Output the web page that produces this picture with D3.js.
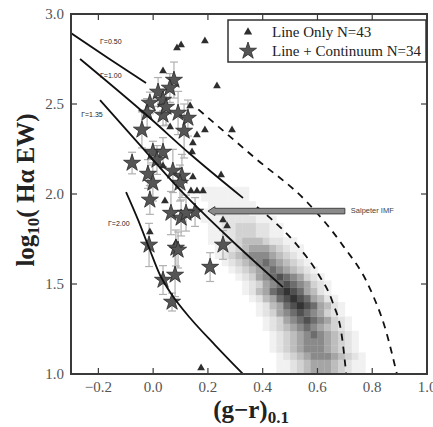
<!DOCTYPE html>
<html><head><meta charset="utf-8">
<script src="https://cdn.jsdelivr.net/npm/d3@7"></script>
<style>body{margin:0;background:#fff}svg{display:block}</style>
</head><body>
<script>
// ---------- data ----------
const xTicks = [-0.2, 0.0, 0.2, 0.4, 0.6, 0.8, 1.0];
const xTickLabels = ["\u22120.2", "0.0", "0.2", "0.4", "0.6", "0.8", "1.0"];
const yTicks = [1.0, 1.5, 2.0, 2.5, 3.0];
const yTickLabels = ["1.0", "1.5", "2.0", "2.5", "3.0"];

// Line only (triangles)
const lineOnlyX = [0.087,0.102,0.189,0.036,0.233,0.135,0.062,0.189,0.288,0.160,0.145,0.142,0.036,0.248,0.145,0.138,0.160,0.182,0.043,-0.012,0.083,0.255,0.270,0.175];
const lineOnlyY = [2.811,2.828,2.850,2.683,2.600,2.489,2.372,2.356,2.356,2.328,2.283,2.233,2.156,2.106,2.094,2.017,2.017,2.017,1.961,1.789,1.728,1.856,1.822,1.033];

// Line + continuum (stars) with errors
const contX = [0.076,0.061,0.018,0.036,-0.012,-0.022,0.036,0.091,0.127,-0.041,0.113,-0.077,-0.001,0.036,-0.019,-0.001,0.072,0.105,-0.012,0.065,0.102,0.153,-0.015,0.083,0.036,0.080,0.069,0.208,0.255,0.047,0.098,0.014,0.120,0.091];
const contY = [2.633,2.589,2.567,2.522,2.506,2.450,2.439,2.450,2.422,2.356,2.350,2.172,2.233,2.233,2.111,2.061,2.128,2.100,1.967,1.894,1.867,1.900,1.717,1.700,1.522,1.550,1.400,1.594,1.717,2.483,2.061,2.189,1.894,1.689];
const contErr = [0.10,0.08,0.08,0.06,0.06,0.08,0.06,0.12,0.10,0.10,0.15,0.06,0.06,0.08,0.08,0.10,0.12,0.12,0.08,0.12,0.10,0.08,0.12,0.10,0.08,0.12,0.05,0.08,0.08,0.10,0.10,0.08,0.10,0.10];

// Model tracks (solid = young, dashed = older)
const gamma050Solid  = [[-0.300,2.894],[-0.165,2.756],[-0.026,2.617]];
const gamma050Dashed = [[0.165,2.470],[0.372,2.200],[0.565,1.950],[0.690,1.720],[0.790,1.480],[0.850,1.240],[0.890,1.000]];
const gamma100Solid  = [[-0.267,2.750],[-0.012,2.422],[0.135,2.222],[0.328,1.978]];
const gamma100Dashed = [[0.379,1.928],[0.427,1.867],[0.525,1.717],[0.605,1.550],[0.655,1.400],[0.690,1.200],[0.705,1.000]];
const gamma135Solid  = [[-0.194,2.522],[-0.048,2.272],[0.109,2.006],[0.281,1.750],[0.474,1.483]];
const gamma200Solid  = [[-0.099,2.011],[-0.055,1.856],[-0.012,1.689],[0.025,1.550],[0.069,1.439],[0.135,1.311],[0.226,1.161],[0.328,1.000]];
const trackLabels = [
  {text:"\u0393=0.50", x:-0.194, y:2.845},
  {text:"\u0393=1.00", x:-0.194, y:2.656},
  {text:"\u0393=1.35", x:-0.263, y:2.440},
  {text:"\u0393=2.00", x:-0.165, y:1.833}
];

// Background galaxy density (2D histogram levels 0-9), rows from y=1.00 upward
const densX0 = 0.10, densDX = 0.025, densY0 = 1.00, densDY = 0.04;
const densityRows = [
 "000000000000001123455543211000",
 "000000000000001123455543211000",
 "000000000000001234566654321000",
 "000000000000012345666543210000",
 "000000000000012345666543210000",
 "000000000000012345676543210000",
 "000000000000123456765432100000",
 "000000000000123567876532100000",
 "000000000001235678765321000000",
 "000000000001245789875421000000",
 "000000000012457898754210000000",
 "000000000124578987542100000000",
 "000000000123567876532100000000",
 "000000001235678765321000000000",
 "000000012345676543210000000000",
 "000000123456765432100000000000",
 "000001234566654321000000000000",
 "000001123455543211000000000000",
 "000011223444322110000000000000",
 "000011223332211000000000000000",
 "000011223332211000000000000000",
 "000111222221110000000000000000",
 "001112222211100000000000000000",
 "000011111110000000000000000000",
 "000111111100000000000000000000",
 "000111111100000000000000000000"
];
const densityGreys = ["#ffffff","#f1f1f1","#e3e3e3","#d2d2d2","#bdbdbd","#a5a5a5","#8a8a8a","#6d6d6d","#505050","#333333"];

const legendItems = ["Line Only N=43", "Line + Continuum N=34"];
const arrowData = {x0:0.70, x1:0.20, y:1.905, label:"Salpeter IMF"};

// ---------- drawing ----------
const W = 433, H = 427;
const L = 71, R = 427, T = 14, B = 374;
const x = d3.scaleLinear().domain([-0.3, 1.0]).range([L, R]);
const y = d3.scaleLinear().domain([1.0, 3.0]).range([B, T]);

const svg = d3.select("body").append("svg").attr("width", W).attr("height", H);
svg.append("defs").append("clipPath").attr("id","clip")
  .append("rect").attr("x", L).attr("y", T).attr("width", R-L).attr("height", B-T);
const plot = svg.append("g").attr("clip-path","url(#clip)");

// density cells
const cells = [];
densityRows.forEach((row, j) => {
  for (let i = 0; i < row.length; i++) {
    const v = +row[i];
    if (v > 0) cells.push({x0: densX0 + i*densDX, y0: densY0 + j*densDY, v});
  }
});
plot.selectAll("rect.cell").data(cells).enter().append("rect")
  .attr("x", d => x(d.x0)).attr("y", d => y(d.y0 + densDY))
  .attr("width", d => x(d.x0 + densDX) - x(d.x0) + 0.3)
  .attr("height", d => y(d.y0) - y(d.y0 + densDY) + 0.3)
  .attr("fill", d => densityGreys[d.v]);

// error bars
const eb = plot.append("g").attr("stroke", "#b0b0b0").attr("stroke-width", 1.2);
contX.forEach((cx, k) => {
  const px = x(cx), y0 = y(contY[k] - contErr[k]), y1 = y(contY[k] + contErr[k]);
  eb.append("line").attr("x1", px).attr("x2", px).attr("y1", y0).attr("y2", y1);
  eb.append("line").attr("x1", px-4).attr("x2", px+4).attr("y1", y0).attr("y2", y0);
  eb.append("line").attr("x1", px-4).attr("x2", px+4).attr("y1", y1).attr("y2", y1);
});

// triangles
const tri = d3.symbol().type(d3.symbolTriangle).size(26);
plot.selectAll("path.tri").data(lineOnlyX).enter().append("path")
  .attr("d", tri).attr("transform", (d,k) => `translate(${x(d)},${y(lineOnlyY[k])})`)
  .attr("fill", "#2e2e2e");

// stars
const star = d3.symbol().type(d3.symbolStar).size(90);
plot.selectAll("path.star").data(contX).enter().append("path")
  .attr("d", star).attr("transform", (d,k) => `translate(${x(d)},${y(contY[k])})`)
  .attr("fill", "#555").attr("stroke", "#2a2a2a").attr("stroke-width", 0.8);

// model tracks
const line = d3.line().x(d => x(d[0])).y(d => y(d[1])).curve(d3.curveMonotoneX);
[gamma050Solid, gamma100Solid, gamma135Solid, gamma200Solid].forEach(t =>
  plot.append("path").attr("d", line(t)).attr("fill","none").attr("stroke","#111").attr("stroke-width",1.8));
[gamma050Dashed, gamma100Dashed].forEach(t =>
  plot.append("path").attr("d", line(t)).attr("fill","none").attr("stroke","#111").attr("stroke-width",1.8)
    .attr("stroke-dasharray","7,6"));

trackLabels.forEach(t => svg.append("text").attr("x", x(t.x)).attr("y", y(t.y))
  .attr("font-family","Liberation Sans, Arial, sans-serif").attr("font-size", 7).attr("fill","#222")
  .attr("dominant-baseline","middle").text(t.text));

// Salpeter arrow
const ax0 = x(arrowData.x0), ax1 = x(arrowData.x1), ay = y(arrowData.y);
svg.append("path")
  .attr("d", `M${ax0},${ay-2.8}L${ax1+7},${ay-2.8}L${ax1+7},${ay-4.5}L${ax1},${ay}L${ax1+7},${ay+4.5}L${ax1+7},${ay+2.8}L${ax0},${ay+2.8}Z`)
  .attr("fill","#8a8a8a").attr("stroke","#444").attr("stroke-width",1);
svg.append("text").attr("x", ax0 + 6).attr("y", ay).attr("dominant-baseline","middle")
  .attr("font-family","Liberation Sans, Arial, sans-serif").attr("font-size", 7.5).attr("fill","#444")
  .text(arrowData.label);

// frame
svg.append("rect").attr("x", L).attr("y", T).attr("width", R-L).attr("height", B-T)
  .attr("fill","none").attr("stroke","#3a3a3a").attr("stroke-width",2);

// ticks (inward) on all sides
const tk = svg.append("g").attr("stroke","#3a3a3a").attr("stroke-width",1.2);
xTicks.forEach(v => {
  tk.append("line").attr("x1",x(v)).attr("x2",x(v)).attr("y1",B).attr("y2",B-6);
  tk.append("line").attr("x1",x(v)).attr("x2",x(v)).attr("y1",T).attr("y2",T+6);
});
yTicks.forEach(v => {
  tk.append("line").attr("x1",L).attr("x2",L+6).attr("y1",y(v)).attr("y2",y(v));
  tk.append("line").attr("x1",R).attr("x2",R-6).attr("y1",y(v)).attr("y2",y(v));
});
const serif = "Liberation Serif, 'DejaVu Serif', serif";
xTicks.forEach((v,k) => svg.append("text").attr("x", x(v)).attr("y", 392)
  .attr("text-anchor","middle").attr("font-family",serif).attr("font-size",15).attr("fill","#555")
  .text(xTickLabels[k]));
yTicks.forEach((v,k) => svg.append("text").attr("x", 64).attr("y", y(v)).attr("dominant-baseline","central")
  .attr("text-anchor","end").attr("font-family",serif).attr("font-size",15).attr("fill","#555")
  .text(yTickLabels[k]));

// axis labels
const xl = svg.append("text").attr("x", 251).attr("y", 418).attr("text-anchor","middle")
  .attr("font-family",serif).attr("font-weight","bold").attr("font-size",25).attr("fill","#222");
xl.append("tspan").text("(g\u2212r)");
xl.append("tspan").attr("font-size",17).attr("dy",5).text("0.1");

const yl = svg.append("text").attr("transform","translate(34,190) rotate(-90)").attr("text-anchor","middle")
  .attr("font-family",serif).attr("font-weight","bold").attr("font-size",25).attr("fill","#222");
yl.append("tspan").text("log");
yl.append("tspan").attr("font-size",17).attr("dy",5).text("10");
yl.append("tspan").attr("dy",-5).text("( H\u03b1 EW)");

// legend
const lg = svg.append("g");
lg.append("rect").attr("x",228).attr("y",20).attr("width",198).attr("height",42)
  .attr("fill","#fff").attr("stroke","#333").attr("stroke-width",1.5);
lg.append("path").attr("d", d3.symbol().type(d3.symbolTriangle).size(30)()).attr("transform","translate(248,32)").attr("fill","#2e2e2e");
lg.append("path").attr("d", d3.symbol().type(d3.symbolStar).size(90)()).attr("transform","translate(248,51)")
  .attr("fill","#555").attr("stroke","#2a2a2a").attr("stroke-width",0.8);
legendItems.forEach((t,k) => lg.append("text").attr("x",272).attr("y", 32 + k*19).attr("dominant-baseline","central")
  .attr("font-family",serif).attr("font-size",15).attr("fill","#222").text(t));
</script>
</body></html>
